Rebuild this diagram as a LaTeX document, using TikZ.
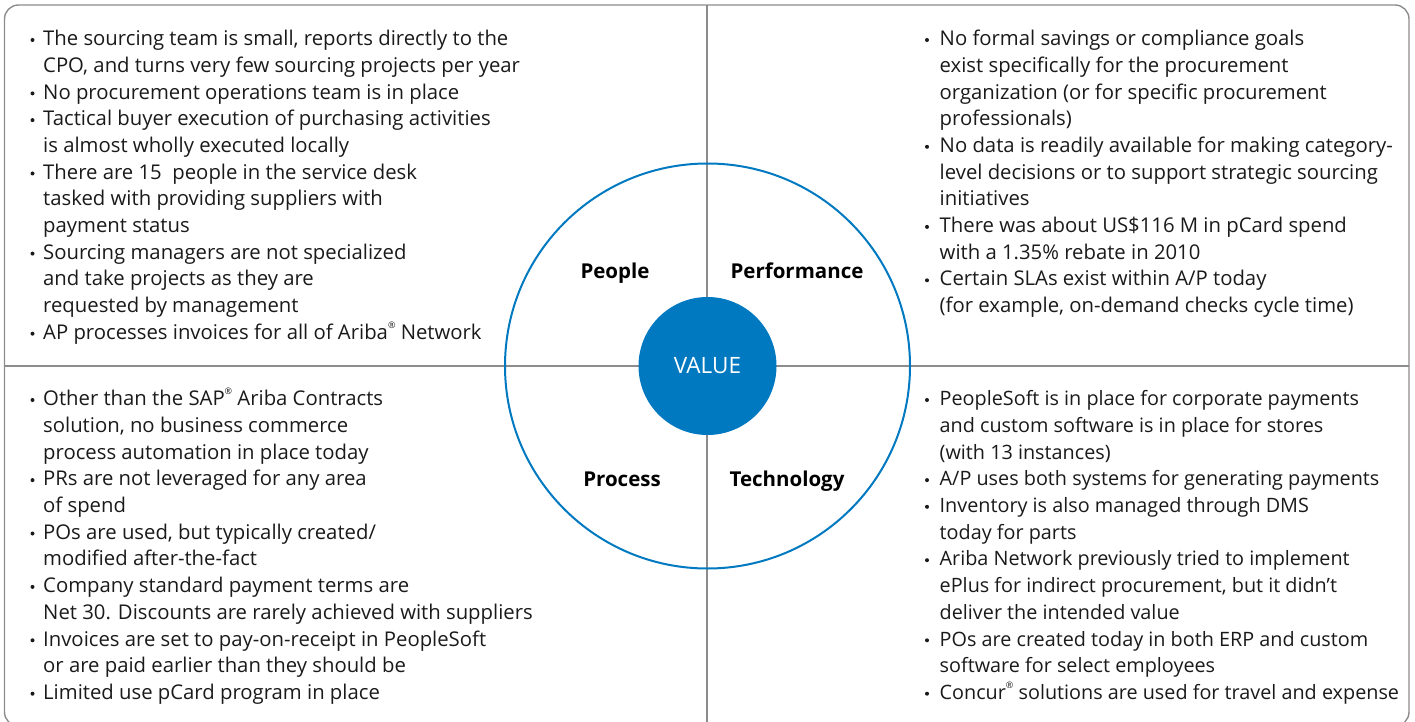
\documentclass[tikz,border=0pt]{standalone}
\usepackage{fontspec}
\setmainfont{Open Sans}

\definecolor{sapblue}{HTML}{0079C1}
\definecolor{rulegray}{HTML}{8C8C8C}
\definecolor{inkgray}{HTML}{1A1A1A}

\newcommand\bodyfont{\fontsize{20.3}{26.7}\selectfont}
\newcommand\regd{\raisebox{0.55em}{\fontsize{9}{9}\selectfont ®}}

\tikzset{
  quadtext/.style={anchor=base west, inner sep=0pt, font=\bodyfont, text=inkgray},
  quadlabel/.style={anchor=base, inner sep=0pt, font=\fontsize{20.5}{24}\selectfont\bfseries, text=black},
  divider/.style={draw=rulegray, line width=1.4pt},
  bulletdot/.style={fill=inkgray},
}

\begin{document}
\begin{tikzpicture}[x=1pt, y=-1pt]
    \useasboundingbox (0,0) rectangle (1415,722);

    % Frame and quadrant lines
    \draw[divider, rounded corners=14pt] (4.5,5) rectangle (1409,726);
    \draw[divider] (707,5) -- (707,726);
    \draw[divider] (4.5,366) -- (1409,366);

    % Ring and centre
    \node[circle, draw=sapblue, line width=2pt, minimum size=405pt, inner sep=0pt] (ring) at (707.5,366) {};
    \node[circle, fill=sapblue, minimum size=138pt, inner sep=0pt, text=white,
          font=\fontsize{22.5}{26}\selectfont] (value) at (707.5,366) {VALUE};

    % Quadrant labels
    \node[quadlabel] (people) at (615,278) {People};
    \node[quadlabel] (perf) at (797,278) {Performance};
    \node[quadlabel] (process) at (622,486.5) {Process};
    \node[quadlabel] (tech) at (787,486.5) {Technology};

    % People
    \node[quadtext] (peopletxt) at (43,45.7) {\begin{tabular}[t]{@{}l@{}}
        The sourcing team is small, reports directly to the\\
        CPO, and turns very few sourcing projects per year\\
        No procurement operations team is in place\\
        Tactical buyer execution of purchasing activities\\
        is almost wholly executed locally\\
        There are 15\ \ people in the service desk\\
        tasked with providing suppliers with\\
        payment status\\
        Sourcing managers are not specialized\\
        and take projects as they are\\
        requested by management\\
        AP processes invoices for all of Ariba\regd{} Network
    \end{tabular}};
    \foreach \k in {0,2,3,5,8,11}
        \fill[bulletdot] (32.5,{40+26.7*\k}) circle (2pt);

    % Performance
    \node[quadtext] (perftxt) at (939.5,45.7) {\begin{tabular}[t]{@{}l@{}}
        No formal savings or compliance goals\\
        exist specifically for the procurement\\
        organization (or for specific procurement\\
        professionals)\\
        No data is readily available for making category-\\
        level decisions or to support strategic sourcing\\
        initiatives\\
        There was about US\$116 M in pCard spend\\
        with a 1.35\% rebate in 2010\\
        Certain SLAs exist within A/P today\\
        (for example, on-demand checks cycle time)
    \end{tabular}};
    \foreach \k in {0,4,7,9}
        \fill[bulletdot] (927,{40+26.7*\k}) circle (2pt);

    % Process
    \node[quadtext] (processtxt) at (43,405.7) {\begin{tabular}[t]{@{}l@{}}
        Other than the SAP\regd{} Ariba Contracts\\
        solution, no business commerce\\
        process automation in place today\\
        PRs are not leveraged for any area\\
        of spend\\
        POs are used, but typically created/\\
        modified after-the-fact\\
        Company standard payment terms are\\
        Net 30. Discounts are rarely achieved with suppliers\\
        Invoices are set to pay-on-receipt in PeopleSoft\\
        or are paid earlier than they should be\\
        Limited use pCard program in place
    \end{tabular}};
    \foreach \k in {0,3,5,7,9,11}
        \fill[bulletdot] (32.5,{400+26.7*\k}) circle (2pt);

    % Technology
    \node[quadtext, font=\fontsize{19.8}{26.7}\selectfont] (techtxt) at (939.5,405.7) {\begin{tabular}[t]{@{}l@{}}
        PeopleSoft is in place for corporate payments\\
        and custom software is in place for stores\\
        (with 13 instances)\\
        A/P uses both systems for generating payments\\
        Inventory is also managed through DMS\\
        today for parts\\
        Ariba Network previously tried to implement\\
        ePlus for indirect procurement, but it didn’t\\
        deliver the intended value\\
        POs are created today in both ERP and custom\\
        software for select employees\\
        Concur\regd{} solutions are used for travel and expense
    \end{tabular}};
    \foreach \k in {0,3,4,6,9,11}
        \fill[bulletdot] (927,{400+26.7*\k}) circle (2pt);
\end{tikzpicture}
\end{document}
